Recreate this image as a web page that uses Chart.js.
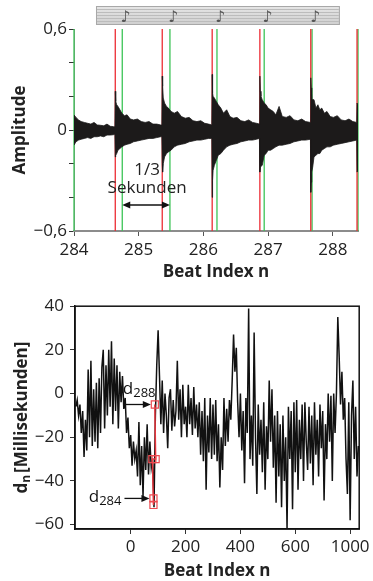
<!DOCTYPE html>
<html><head><meta charset="utf-8">
<script src="https://cdn.jsdelivr.net/npm/chart.js@4.4.0/dist/chart.umd.min.js"></script>
<style>
html,body{margin:0;padding:0;background:#fff;}
#wrap{position:relative;width:373px;height:581px;}
canvas{position:absolute;left:0;}
#top{top:0}
#bot{top:290px}
</style></head><body>
<div id="wrap"><canvas id="top" width="373" height="290"></canvas><canvas id="bot" width="373" height="291"></canvas></div>
<script>
const waveT = [
  284.000,284.03,284.07,284.11,284.16,284.21,284.26,284.31,284.36,284.41,284.46,284.51,284.56,284.61,284.632,
  284.638,284.645,284.66,284.68,284.71,284.74,284.78,284.82,284.87,284.92,284.98,285.04,285.10,285.16,285.22,285.28,285.34,285.358,
  285.364,285.37,285.38,285.40,285.43,285.46,285.50,285.55,285.60,285.66,285.72,285.78,285.84,285.90,285.96,286.02,286.08,286.13,
  286.136,286.142,286.15,286.17,286.20,286.23,286.27,286.31,286.36,286.41,286.46,286.52,286.58,286.64,286.70,286.76,286.82,286.866,
  286.873,286.88,286.89,286.91,286.94,286.97,287.00,287.04,287.08,287.12,287.17,287.22,287.28,287.34,287.40,287.46,287.52,287.58,287.655,
  287.66,287.667,287.675,287.69,287.71,287.74,287.77,287.80,287.83,287.87,287.91,287.96,288.01,288.07,288.13,288.19,288.25,288.31,288.37,
  288.375,288.39
];
const waveUp = [
  0.09,0.075,0.06,0.05,0.045,0.04,0.035,0.045,0.03,0.028,0.025,0.035,0.022,0.02,0.02,
  0.23,0.17,0.15,0.14,0.12,0.10,0.085,0.09,0.065,0.06,0.065,0.05,0.045,0.05,0.035,0.035,0.03,0.03,
  0.32,0.26,0.19,0.16,0.14,0.13,0.11,0.10,0.11,0.08,0.07,0.075,0.055,0.05,0.055,0.04,0.035,0.03,
  0.33,0.22,0.20,0.19,0.17,0.15,0.13,0.10,0.12,0.08,0.07,0.075,0.055,0.05,0.06,0.045,0.04,0.035,
  0.32,0.23,0.20,0.18,0.16,0.15,0.13,0.12,0.11,0.09,0.14,0.08,0.075,0.085,0.06,0.055,0.065,0.05,0.045,
  0.31,0.25,0.19,0.18,0.18,0.13,0.15,0.12,0.13,0.10,0.11,0.08,0.075,0.085,0.06,0.055,0.065,0.05,0.045,
  0.16,0.15
];
const waveLo = [
  -0.09,-0.07,-0.06,-0.055,-0.05,-0.045,-0.05,-0.04,-0.04,-0.035,-0.04,-0.03,-0.03,-0.028,-0.025,
  -0.16,-0.15,-0.14,-0.12,-0.11,-0.10,-0.09,-0.085,-0.08,-0.07,-0.065,-0.06,-0.055,-0.05,-0.05,-0.045,-0.04,-0.04,
  -0.20,-0.25,-0.20,-0.16,-0.14,-0.13,-0.12,-0.10,-0.09,-0.085,-0.08,-0.07,-0.065,-0.06,-0.06,-0.055,-0.05,-0.05,
  -0.40,-0.30,-0.24,-0.21,-0.18,-0.15,-0.14,-0.12,-0.10,-0.09,-0.085,-0.08,-0.07,-0.065,-0.06,-0.06,-0.055,-0.05,
  -0.25,-0.22,-0.22,-0.21,-0.15,-0.14,-0.12,-0.12,-0.11,-0.10,-0.09,-0.09,-0.085,-0.08,-0.07,-0.065,-0.06,-0.06,-0.055,
  -0.37,-0.31,-0.25,-0.22,-0.16,-0.15,-0.14,-0.14,-0.12,-0.11,-0.10,-0.10,-0.09,-0.085,-0.08,-0.075,-0.07,-0.065,-0.06,
  -0.25,-0.24
];
const redOnsets = [284.638, 285.364, 286.136, 286.873, 287.66, 288.375];
const greenClicks = [284.0, 284.746, 285.483, 286.21, 286.94, 287.68, 288.39];
const topXTicks = [284, 285, 286, 287, 288];
const topYTicks = [-0.6, -0.4, -0.2, 0, 0.2, 0.4, 0.6];
const topYLabels = {'-0.6': '\u22120,6', '0': '0', '0.6': '0,6'};
const staffSpan = [284.34, 288.11];

// ---- bottom panel: d_n per beat
const nStart = -200, nStep = 5;
const dn = [
  -6,-3,-10,-5,-18,-8,-29,-12,-26,11,
  -20,15,-24,2,-22,5,-25,7,-18,12,
  20,-16,13,-10,20,-6,24,-14,16,-8,
  13,-16,10,-4,8,-7,-2,-18,-11,-25,
  -19,-33,-22,-30,-26,-38,-13,-42,-24,-47,
  -20,-35,-14,-37,-22,-34,-30,-52,-10,13,
  29,8,-14,6,-18,0,-10,-25,-2,2,
  -17,-3,-15,-8,15,-12,2,-20,4,-14,
  -6,-20,4,-14,-2,-19,3,-16,-5,-20,
  -4,-28,-8,-31,-2,-44,-10,-27,-2,-30,
  -5,-28,-3,-31,-14,-43,-20,-35,-2,-24,
  -7,-22,-3,-12,6,27,10,21,-4,-20,
  0,-26,-8,-41,-2,-18,39,-30,-10,-33,
  28,-20,-46,-5,-28,-12,-36,-4,-44,-15,
  -30,6,-22,2,-34,-10,-50,-8,-38,-14,
  -52,-10,-40,-20,-62,-6,-30,-8,-53,-4,
  -36,-3,-44,-12,-30,-5,-40,-4,-22,-35,
  -6,-32,-10,-42,-4,-28,-12,-38,-5,-25,
  -8,-49,-14,-30,0,-22,-1,-40,0,-18,
  0,35,17,-5,10,-12,-2,-30,-46,-4,
  -58,-10,6,-30,-6,-38,-24
];
const redN = [83, 83, 79, 91, 88];      // beats 284..288
const redD = [-48, -51, -30, -30, -5];
const botXTicks = [0, 200, 400, 600, 800];
const botXLabels = ['0', '200', '400', '600', '1000'];
const botYTicks = [-60, -40, -20, 0, 20, 40];

const FONT = "'Open Sans', sans-serif";
Chart.defaults.font.family = FONT;
Chart.defaults.color = '#222';

function arrowHead(ctx, x, y, dir) {
  ctx.beginPath();
  ctx.moveTo(x, y);
  ctx.lineTo(x - dir * 8, y - 3.5);
  ctx.lineTo(x - dir * 8, y + 3.5);
  ctx.closePath();
  ctx.fill();
}

const topDecor = {
  id: 'topDecor',
  beforeDatasetsDraw(chart) {
    const {ctx, chartArea: a, scales: {x}} = chart;
    ctx.save();
    ctx.lineWidth = 1.3;
    ctx.strokeStyle = '#3cc456';
    greenClicks.forEach(v => {
      const px = x.getPixelForValue(v);
      ctx.beginPath(); ctx.moveTo(px, a.top); ctx.lineTo(px, a.bottom); ctx.stroke();
    });
    ctx.strokeStyle = '#ec2c33';
    redOnsets.forEach(v => {
      const px = x.getPixelForValue(v);
      ctx.beginPath(); ctx.moveTo(px, a.top); ctx.lineTo(px, a.bottom); ctx.stroke();
    });
    ctx.restore();
  },
  afterDraw(chart) {
    const {ctx, scales: {x, y}} = chart;
    ctx.save();
    // staff with notes on the clicks
    const sx0 = x.getPixelForValue(staffSpan[0]), sx1 = x.getPixelForValue(staffSpan[1]);
    const g = ctx.createLinearGradient(0, 6, 0, 25);
    g.addColorStop(0, '#e6e6e6'); g.addColorStop(1, '#cfcfcf');
    ctx.fillStyle = g;
    ctx.fillRect(sx0, 6, sx1 - sx0, 19);
    ctx.strokeStyle = '#a8a8a8'; ctx.lineWidth = 1;
    ctx.strokeRect(sx0 + 0.5, 6.5, sx1 - sx0 - 1, 18);
    ctx.strokeStyle = '#bcbcbc';
    [9.5, 12.5, 15.5, 18.5, 21.5].forEach(ly => {
      ctx.beginPath(); ctx.moveTo(sx0 + 1, ly); ctx.lineTo(sx1 - 1, ly); ctx.stroke();
    });
    ctx.fillStyle = '#555';
    ctx.font = "16px 'DejaVu Sans'";
    ctx.textBaseline = 'alphabetic';
    greenClicks.slice(1, 6).forEach(v => {
      ctx.fillText('\u266A', x.getPixelForValue(v) - 2, 22);
    });
    // 1/3 Sekunden arrow
    const ax0 = x.getPixelForValue(greenClicks[1]), ax1 = x.getPixelForValue(greenClicks[2]);
    const ay = y.getPixelForValue(-0.445);
    ctx.strokeStyle = '#111'; ctx.fillStyle = '#111'; ctx.lineWidth = 1.5;
    ctx.beginPath(); ctx.moveTo(ax0 + 4, ay); ctx.lineTo(ax1 - 4, ay); ctx.stroke();
    arrowHead(ctx, ax0, ay, -1);
    arrowHead(ctx, ax1, ay, 1);
    ctx.font = "17px " + FONT;
    ctx.textAlign = 'center'; ctx.textBaseline = 'middle';
    ctx.fillStyle = '#222';
    const mid = (ax0 + ax1) / 2 + 1;
    ctx.fillText('1/3', mid, y.getPixelForValue(-0.238));
    ctx.fillText('Sekunden', mid, y.getPixelForValue(-0.345));
    ctx.restore();
  }
};

new Chart(document.getElementById('top'), {
  type: 'line',
  data: {
    datasets: [
      {data: waveT.map((t, i) => ({x: t, y: waveUp[i]})), borderColor: '#1c1a1a', backgroundColor: '#1c1a1a',
       borderWidth: 0.8, pointRadius: 0, fill: false},
      {data: waveT.map((t, i) => ({x: t, y: waveLo[i]})), borderColor: '#1c1a1a', backgroundColor: '#1c1a1a',
       borderWidth: 0.8, pointRadius: 0, fill: '-1'}
    ]
  },
  options: {
    responsive: false, animation: false, devicePixelRatio: 1,
    layout: {padding: {top: 29, right: 15, bottom: 0, left: 0}},
    plugins: {legend: {display: false}, tooltip: {enabled: false}},
    scales: {
      x: {type: 'linear', min: 284, max: 288.39,
        afterBuildTicks: s => { s.ticks = topXTicks.map(v => ({value: v})); },
        afterFit: s => { s.height = 59; },
        ticks: {font: {size: 17}, padding: 4, maxRotation: 0, callback: v => String(v)},
        grid: {drawOnChartArea: false, tickLength: 5, color: '#555'},
        border: {color: '#8c8c8c', width: 2},
        title: {display: true, text: 'Beat Index n', font: {size: 17, weight: 'bold'}, padding: {top: 0, bottom: 8}}
      },
      y: {min: -0.6, max: 0.6,
        afterBuildTicks: s => { s.ticks = topYTicks.map(v => ({value: v})); },
        afterFit: s => { s.width = 74; },
        ticks: {font: {size: 17}, padding: 2,
          callback: v => { const k = String(Math.round(v * 10) / 10); return topYLabels[k] || ''; }},
        grid: {drawOnChartArea: false, tickLength: 5, color: '#333'},
        border: {color: '#8c8c8c', width: 1},
        title: {display: true, text: 'Amplitude', font: {size: 17, weight: 'bold'}, padding: {top: 10, bottom: 0}}
      }
    }
  },
  plugins: [topDecor]
});

const botDecor = {
  id: 'botDecor',
  afterDatasetsDraw(chart) {
    const {ctx, chartArea: a, scales: {x, y}} = chart;
    ctx.save();
    ctx.strokeStyle = '#111'; ctx.lineWidth = 1.5;
    ctx.strokeRect(a.left, a.top, a.right - a.left, a.bottom - a.top);
    ctx.fillStyle = '#111';
    ctx.lineWidth = 1.3;
    const marks = [[4, -10], [0, 4]]; // [marker index, text baseline offset]
    marks.forEach(([k, off], j) => {
      const tx = x.getPixelForValue(redN[k]) - 4, ty = y.getPixelForValue(redD[k]);
      const tail = tx - 25;
      ctx.beginPath(); ctx.moveTo(tail, ty); ctx.lineTo(tx - 5, ty); ctx.stroke();
      arrowHead(ctx, tx, ty, 1);
      const sub = j === 0 ? '288' : '284';
      ctx.font = "17px " + FONT;
      const wd = ctx.measureText('d').width;
      ctx.font = "13px " + FONT;
      const ws = ctx.measureText(sub).width;
      const left = j === 0 ? tail - 3 : tail - 3 - wd - ws;
      ctx.textBaseline = 'alphabetic'; ctx.textAlign = 'left';
      ctx.font = "17px " + FONT;
      ctx.fillText('d', left, ty + off);
      ctx.font = "13px " + FONT;
      ctx.fillText(sub, left + wd, ty + off + 3);
    });
    ctx.restore();
  },
  afterDraw(chart) {
    const {ctx, chartArea: a} = chart;
    ctx.save();
    ctx.translate(22, (a.top + a.bottom) / 2);
    ctx.rotate(-Math.PI / 2);
    ctx.fillStyle = '#222';
    ctx.textBaseline = 'middle'; ctx.textAlign = 'left';
    ctx.font = "bold 17px " + FONT;
    const wd = ctx.measureText('d').width, wb = ctx.measureText('[Millisekunden]').width;
    ctx.font = "bold 12px " + FONT;
    const wn = ctx.measureText('n').width;
    const start = -(wd + wn + 2 + wb) / 2;
    ctx.font = "bold 17px " + FONT;
    ctx.fillText('d', start, 0);
    ctx.fillText('[Millisekunden]', start + wd + wn + 2, 0);
    ctx.font = "bold 12px " + FONT;
    ctx.fillText('n', start + wd, 5);
    ctx.restore();
  }
};

new Chart(document.getElementById('bot'), {
  type: 'line',
  data: {
    datasets: [
      {data: redN.map((n, i) => ({x: n, y: redD[i]})), borderColor: '#e8343c', borderWidth: 1.5,
       pointStyle: 'rect', pointRadius: 5, pointBorderWidth: 1.2, pointBorderColor: '#ee4a50',
       pointBackgroundColor: 'rgba(255,255,255,0)', order: 0},
      {data: dn.map((v, i) => ({x: nStart + i * nStep, y: v})), borderColor: '#111', borderWidth: 1.5,
       pointRadius: 0, fill: false, order: 1}
    ]
  },
  options: {
    responsive: false, animation: false, devicePixelRatio: 1,
    layout: {padding: {top: 13, right: 13, bottom: 0, left: 0}},
    plugins: {legend: {display: false}, tooltip: {enabled: false}},
    scales: {
      x: {type: 'linear', min: -203, max: 833,
        afterBuildTicks: s => { s.ticks = botXTicks.map(v => ({value: v})); },
        afterFit: s => { s.height = 52; },
        ticks: {font: {size: 17}, padding: 3, maxRotation: 0,
          callback: v => botXLabels[botXTicks.indexOf(v)]},
        grid: {drawOnChartArea: false, tickLength: 5, color: '#333'},
        border: {color: '#111', width: 1.5},
        title: {display: true, text: 'Beat Index n', font: {size: 17, weight: 'bold', lineHeight: 1.1}, padding: {top: 0, bottom: 0}}
      },
      y: {min: -62, max: 40,
        afterBuildTicks: s => { s.ticks = botYTicks.map(v => ({value: v})); },
        afterFit: s => { s.width = 75; },
        ticks: {font: {size: 17}, padding: 6, callback: v => v < 0 ? '\u2212' + Math.abs(v) : String(v)},
        grid: {drawOnChartArea: false, tickLength: 5, color: '#333'},
        border: {color: '#111', width: 1.5}
      }
    }
  },
  plugins: [botDecor]
});
</script>
</body></html>
